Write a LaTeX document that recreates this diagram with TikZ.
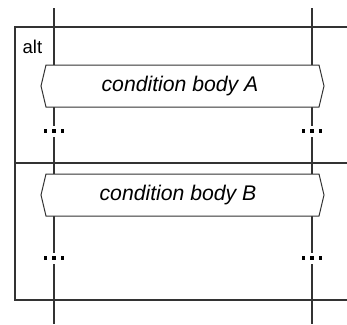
\documentclass[tikz,border=0pt]{standalone}
\usepackage{fontspec}
\setmainfont{Liberation Sans}
\begin{document}
\begin{tikzpicture}[x=1pt,y=-1pt,
  ln/.style={draw=black!80,line width=1.2pt},
  cond/.style={draw=black!80,line width=1pt,fill=white},
  lbl/.style={inner sep=0pt,font=\fontsize{21.2}{24}\selectfont\itshape},
  dotsq/.style={fill=black,minimum size=3.4pt,inner sep=0pt}]
\useasboundingbox (0,0) rectangle (347,324);
% lifelines
\coordinate (l1t) at (54,8); \coordinate (l1b) at (54,324);
\coordinate (l2t) at (312,8); \coordinate (l2b) at (312,324);
\draw[ln] (l1t) -- (l1b);
\draw[ln] (l2t) -- (l2b);
% frame
\draw[ln] (350,27) -- (15,27) -- (15,300) -- (350,300);
\draw[ln] (15,163) -- (350,163);
\node[anchor=base west,inner sep=0pt,font=\fontsize{18.5}{20}\selectfont] (alt) at (22.5,53) {alt};
% condition boxes
\foreach \t/\b/\nm in {65/107/A,174/216/B}{
  \path[cond] (46,\t) -- (319,\t) -- (324,{(\t+\b)/2}) -- (319,\b) -- (46,\b) -- (41,{(\t+\b)/2}) -- cycle;
}
\node[lbl] (ca) at (180,86.5) {condition body A};
\node[lbl] (cb) at (178,195.5) {condition body B};
% dots
\foreach \x/\y/\n in {54/131/a,312/131/b,54/258/c,312/258/d}{
  \fill[white] (\x-11,\y-5.5) rectangle (\x+11,\y+5.5);
  \node[dotsq] (\n1) at (\x-8.5,\y) {};
  \node[dotsq] (\n2) at (\x,\y) {};
  \node[dotsq] (\n3) at (\x+8.5,\y) {};
}
\end{tikzpicture}
\end{document}
